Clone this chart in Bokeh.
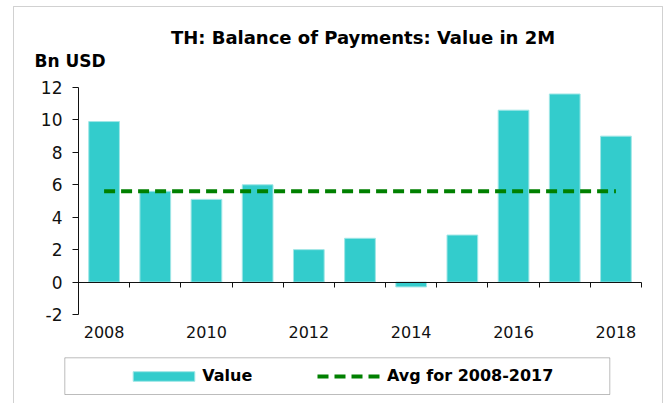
from bokeh.plotting import figure
from bokeh.models import (Range1d, LinearAxis, FixedTicker, Label, BoxAnnotation,
                          Legend, LegendItem, ColumnDataSource)
from bokeh.embed import file_html
from bokeh.resources import INLINE

# ---- data ----
years = [2008, 2009, 2010, 2011, 2012, 2013, 2014, 2015, 2016, 2017, 2018]
values = [9.9, 5.6, 5.1, 6.0, 2.0, 2.7, -0.3, 2.9, 10.6, 11.6, 9.0]
avg_years = [2008, 2018]
avg_values = [5.6, 5.6]
y_ticks = [-2, 0, 2, 4, 6, 8, 10, 12]
x_label_ticks = [2008, 2010, 2012, 2014, 2016, 2018]
title_text = "TH: Balance of Payments: Value in 2M"
unit_text = "Bn USD"
bar_label = "Value"
avg_label = "Avg for 2008-2017"

FONT = "DejaVu Sans"
BAR = "#33CCCC"
GREEN = "#008000"
W, H = 669, 403

# plot area inside the canvas (pixels)
PL, PR, PT, PB = 78, 641, 87, 314
x0, x1 = years[0] - 0.5, years[-1] + 0.5
y0, y1 = y_ticks[0], y_ticks[-1]
sx = (PR - PL) / (x1 - x0)
sy = (PB - PT) / (y1 - y0)
xr = Range1d(x0 - PL / sx, x1 + (W - PR) / sx)
yr = Range1d(y0 - (H - PB) / sy, y1 + PT / sy)

p = figure(width=W, height=H, output_backend="svg", toolbar_location=None,
           x_range=xr, y_range=yr, x_axis_type=None, y_axis_type=None,
           min_border=0)
p.outline_line_color = None
p.xgrid.visible = False
p.ygrid.visible = False
p.background_fill_color = "white"
p.border_fill_color = "white"

src = ColumnDataSource(dict(x=years, top=values))
bars = p.vbar(x="x", top="top", bottom=0, width=0.6, source=src,
              fill_color=BAR, line_color="#9FE6E6", line_width=1)
avg = p.line(x=avg_years, y=avg_values, line_color=GREEN, line_width=4,
             line_dash="11 6")

# y axis
yax = LinearAxis(ticker=FixedTicker(ticks=y_ticks), fixed_location=x0, bounds=(y0, y1),
                 major_label_overrides={-2: "-2"})
yax.major_tick_out = 6
yax.major_tick_in = 0
yax.minor_tick_line_color = None
yax.axis_line_color = "#111111"
yax.major_tick_line_color = "#111111"
yax.major_label_standoff = 10
yax.major_label_text_font = FONT
yax.major_label_text_font_size = "17px"
yax.major_label_text_color = "#111111"
p.add_layout(yax, "left")

# x labels axis (labels only, under the plot area)
xlab = LinearAxis(ticker=FixedTicker(ticks=x_label_ticks), fixed_location=y0,
                  bounds=(x0, x1))
xlab.axis_line_color = None
xlab.major_tick_line_color = None
xlab.minor_tick_line_color = None
xlab.major_tick_out = 0
xlab.major_tick_in = 0
xlab.major_label_standoff = 11
xlab.major_label_text_font = FONT
xlab.major_label_text_font_size = "16px"
xlab.major_label_text_color = "#111111"
p.add_layout(xlab, "below")

# zero line with category boundary ticks
bounds = [y - 0.5 for y in years] + [years[-1] + 0.5]
zax = LinearAxis(ticker=FixedTicker(ticks=bounds), fixed_location=0, bounds=(x0, x1),
                 major_label_overrides={b: "" for b in bounds})
zax.axis_line_color = "#111111"
zax.major_tick_line_color = "#111111"
zax.minor_tick_line_color = None
zax.major_tick_in = 0
zax.major_tick_out = 5
zax.major_label_text_font_size = "1px"
p.add_layout(zax, "below")

# texts (screen units: from the canvas bottom-left)
p.add_layout(Label(x=362.5, y=H - 36.7, x_units="screen", y_units="screen", text=title_text,
                   text_font=FONT, text_font_size="18px", text_font_style="bold",
                   text_align="center", text_baseline="alphabetic", text_color="black"))
p.add_layout(Label(x=34, y=H - 60, x_units="screen", y_units="screen", text=unit_text,
                   text_font=FONT, text_font_size="17px", text_font_style="bold",
                   text_align="left", text_baseline="alphabetic", text_color="black"))

# legend box and outer frame
p.add_layout(BoxAnnotation(left=64.3, right=609.3, top=H - 357.3, bottom=H - 394,
                           left_units="screen", right_units="screen",
                           top_units="screen", bottom_units="screen",
                           fill_color="white", fill_alpha=1, line_color="#222222",
                           line_width=1, level="overlay"))
p.add_layout(BoxAnnotation(left=13, right=662, top=H - 6, bottom=-20,
                           left_units="screen", right_units="screen",
                           top_units="screen", bottom_units="screen",
                           fill_alpha=0, line_color="#666666", line_width=1))

leg1 = Legend(items=[LegendItem(label=bar_label, renderers=[bars])],
              location=(125.3, H - 385.5), orientation="horizontal",
              glyph_width=77, glyph_height=12, label_standoff=0, padding=0, spacing=0,
              margin=0, border_line_color=None, background_fill_alpha=0,
              label_text_font=FONT, label_text_font_size="16px",
              label_text_font_style="bold", label_text_color="black", label_height=20)
leg2 = Legend(items=[LegendItem(label=avg_label, renderers=[avg])],
              location=(317, H - 385.5), orientation="horizontal",
              glyph_width=65, glyph_height=12, label_standoff=5, padding=0, spacing=0,
              margin=0, border_line_color=None, background_fill_alpha=0,
              label_text_font=FONT, label_text_font_size="16px",
              label_text_font_style="bold", label_text_color="black", label_height=20)
p.add_layout(leg1, "center")
p.add_layout(leg2, "center")

open("out.html", "w").write(file_html(p, INLINE))
